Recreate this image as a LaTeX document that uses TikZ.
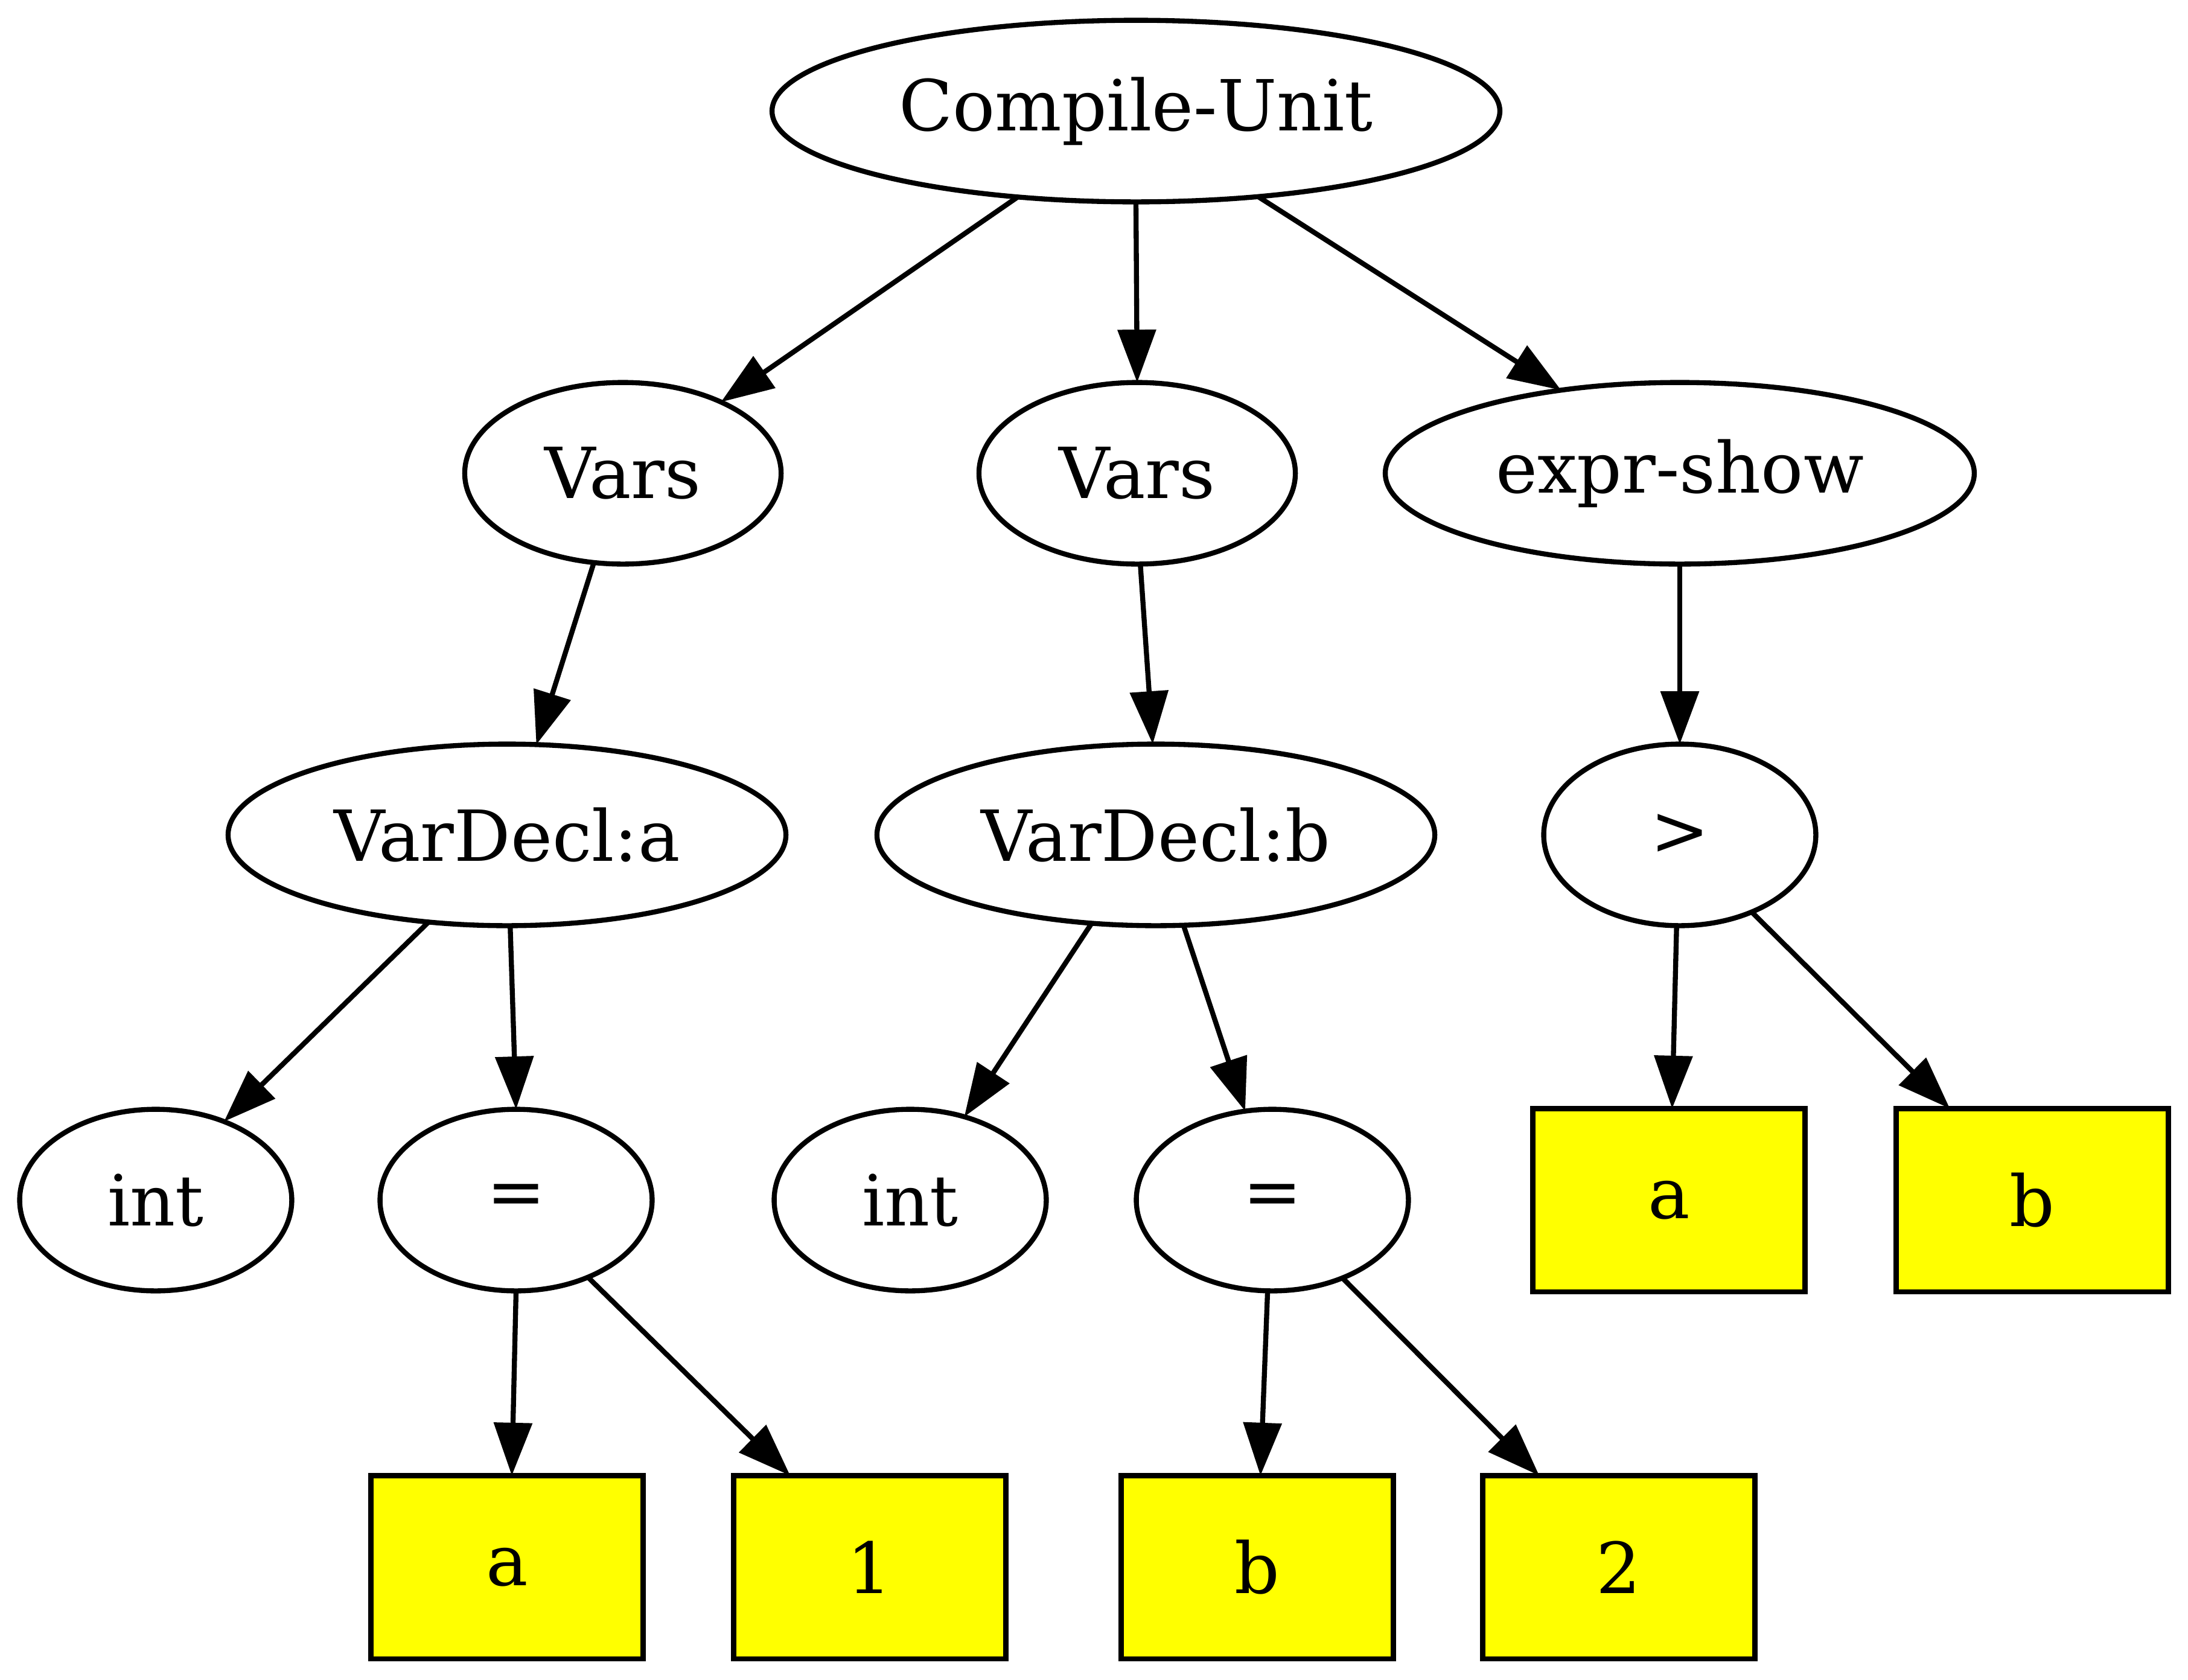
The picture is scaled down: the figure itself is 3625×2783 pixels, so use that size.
\documentclass[tikz,border=0pt]{standalone}
\usepackage{fontspec}
\setmainfont{DejaVu Serif}
\usetikzlibrary{shapes.geometric,arrows.meta}
\definecolor{leafyellow}{HTML}{FFFF00}
\begin{document}
\begin{tikzpicture}[x=0.12pt,y=-0.12pt,
  base/.style={draw, line width=1pt, inner sep=0pt, outer sep=0pt,
    font=\fontsize{14}{17}\selectfont},
  ell/.style={base, ellipse, minimum height=36.1pt},
  leaf/.style={base, rectangle, fill=leafyellow, minimum width=54.1pt, minimum height=36.4pt},
  edge/.style={line width=1pt, -{Triangle[length=10.5pt,width=7.5pt]}}]
\fill[white] (0,0) rectangle (3625,2783);
\useasboundingbox (0,0) rectangle (3625,2783);
% row 1
\node[ell, minimum width=144.7pt] (cu) at (1882,184) {Compile-Unit};
% row 2
\node[ell, minimum width=62.9pt] (v1) at (1032,784) {Vars};
\node[ell, minimum width=62.9pt] (v2) at (1884,784) {Vars};
\node[ell, minimum width=117.1pt] (ex) at (2783,784) {expr-show};
% row 3
\node[ell, minimum width=110.9pt] (vda) at (840,1383) {VarDecl:a};
\node[ell, minimum width=110.9pt] (vdb) at (1915,1383) {VarDecl:b};
\node[ell, minimum width=54.1pt] (gt) at (2783,1383) {>};
% row 4
\node[ell, minimum width=54.1pt] (int1) at (258,1988) {int};
\node[ell, minimum width=54.1pt] (eq1) at (855,1988) {=};
\node[ell, minimum width=54.1pt] (int2) at (1508,1988) {int};
\node[ell, minimum width=54.1pt] (eq2) at (2108,1988) {=};
\node[leaf] (ga) at (2765,1988) {a};
\node[leaf] (gb) at (3367,1988) {b};
% row 5
\node[leaf] (la) at (840,2596) {a};
\node[leaf] (l1) at (1441,2596) {1};
\node[leaf] (lb) at (2083,2596) {b};
\node[leaf] (l2) at (2682,2596) {2};
% edges
\draw[edge] (cu.216.4) -- (v1.36.6);
\draw[edge] (cu.270) -- (v2.90);
\draw[edge] (cu.325.2) -- (ex.145.6);
\draw[edge] (v1.252.6) -- (vda.72.9);
\draw[edge] (v2.272.7) -- (vdb.92);
\draw[edge] (ex.270) -- (gt.90);
\draw[edge] (vda.228.1) -- (int1.49.3);
\draw[edge] (vda.272.5) -- (eq1.90.8);
\draw[edge] (vdb.234.8) -- (int2.57.4);
\draw[edge] (vdb.287) -- (eq2.107.4);
\draw[edge] (gt.268.5) -- (ga.88.5);
\draw[edge] (gt.313.4) -- (gb.132.6);
\draw[edge] (eq1.270.5) -- (la.87.7);
\draw[edge] (eq1.313.9) -- (l1.131.8);
\draw[edge] (eq2.267.4) -- (lb.88.5);
\draw[edge] (eq2.312.5) -- (l2.131.6);
\end{tikzpicture}
\end{document}
